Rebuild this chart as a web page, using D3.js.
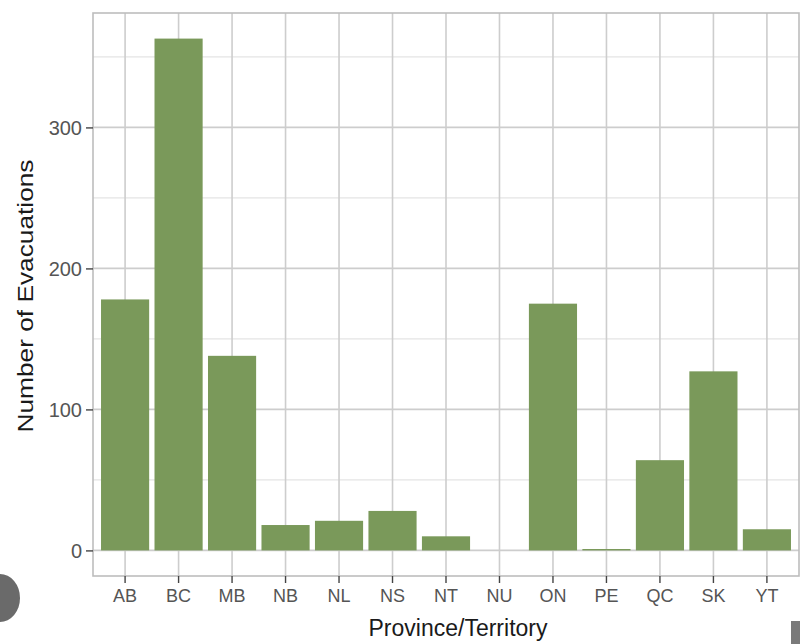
<!DOCTYPE html>
<html>
<head>
<meta charset="utf-8">
<script src="https://cdn.jsdelivr.net/npm/d3@7"></script>
<style>
  body { margin: 0; background: #fff; }
  svg { display: block; font-family: "Liberation Sans", Arial, sans-serif; }
</style>
</head>
<body>
<svg id="canvas" width="800" height="644"></svg>
<script>
const provinces = ["AB", "BC", "MB", "NB", "NL", "NS", "NT", "NU", "ON", "PE", "QC", "SK", "YT"]
const evacuations = [178, 363, 138, 18, 21, 28, 10, 0, 175, 1, 64, 127, 15]
const yTicks = [0, 100, 200, 300]
const yMinor = [50, 150, 250, 350]

const canvas = d3.select("#canvas")

const panel = {left: 93, right: 799, top: 13, bottom: 576}

// ggplot style 5% expansion on the continuous axis
const maxVal = d3.max(evacuations)
const yScale = d3.scaleLinear()
    .domain([-maxVal * 0.05, maxVal * 1.05])
    .range([panel.bottom, panel.top])

const xScale = d3.scaleBand()
    .domain(provinces)
    .range([panel.left, panel.right])
    .paddingInner(0.1)
    .paddingOuter(0.15)

// gridlines
canvas.selectAll(".minor")
      .data(yMinor)
      .enter()
      .append("line")
      .attr("x1", panel.left).attr("x2", panel.right)
      .attr("y1", d => yScale(d)).attr("y2", d => yScale(d))
      .attr("stroke", "#e4e4e4")
      .attr("stroke-width", 1.2)

canvas.selectAll(".major")
      .data(yTicks)
      .enter()
      .append("line")
      .attr("x1", panel.left).attr("x2", panel.right)
      .attr("y1", d => yScale(d)).attr("y2", d => yScale(d))
      .attr("stroke", "#cdcdcd")
      .attr("stroke-width", 1.6)

canvas.selectAll(".vgrid")
      .data(provinces)
      .enter()
      .append("line")
      .attr("x1", d => xScale(d) + xScale.bandwidth() / 2)
      .attr("x2", d => xScale(d) + xScale.bandwidth() / 2)
      .attr("y1", panel.top).attr("y2", panel.bottom)
      .attr("stroke", "#cdcdcd")
      .attr("stroke-width", 1.6)

// bars
canvas.selectAll(".bar")
      .data(provinces)
      .enter()
      .append("rect")
      .attr("class", "bar")
      .attr("x", d => xScale(d))
      .attr("width", xScale.bandwidth())
      .attr("y", (d, i) => yScale(evacuations[i]))
      .attr("height", (d, i) => yScale(0) - yScale(evacuations[i]))
      .attr("fill", "#7a995a")

// panel border
canvas.append("rect")
      .attr("x", panel.left).attr("y", panel.top)
      .attr("width", panel.right - panel.left)
      .attr("height", panel.bottom - panel.top)
      .attr("fill", "none")
      .attr("stroke", "#bdbdbd")
      .attr("stroke-width", 1.6)

// axes
const yAxis = d3.axisLeft(yScale).tickValues(yTicks).tickSize(7).tickPadding(4)
const xAxis = d3.axisBottom(xScale).tickSize(7).tickPadding(6)

const gy = canvas.append("g")
      .attr("transform", "translate(" + panel.left + ",0)")
      .call(yAxis)
gy.select(".domain").remove()
gy.selectAll(".tick line").attr("stroke", "#444").attr("stroke-width", 1.4)
gy.selectAll(".tick text")
  .attr("fill", "#555")
  .style("font-size", "20px")
  .attr("dy", "0.36em")

const gx = canvas.append("g")
      .attr("transform", "translate(0," + panel.bottom + ")")
      .call(xAxis)
gx.select(".domain").remove()
gx.selectAll(".tick line").attr("stroke", "#444").attr("stroke-width", 1.4)
gx.selectAll(".tick text")
  .attr("fill", "#555")
  .style("font-size", "18px")

// axis titles
canvas.append("text")
      .attr("x", 458)
      .attr("y", 636)
      .attr("text-anchor", "middle")
      .attr("fill", "#1a1a1a")
      .style("font-size", "23px")
      .text("Province/Territory")

canvas.append("text")
      .attr("transform", "translate(33,296) rotate(-90)")
      .attr("text-anchor", "middle")
      .attr("fill", "#1a1a1a")
      .attr("textLength", 273)
      .attr("lengthAdjust", "spacingAndGlyphs")
      .style("font-size", "22px")
      .text("Number of Evacuations")

// screenshot leftovers at the edges
canvas.append("ellipse")
      .attr("cx", 0).attr("cy", 598)
      .attr("rx", 20).attr("ry", 24)
      .attr("fill", "#6a6a6a")
canvas.append("rect")
      .attr("x", 791).attr("y", 621)
      .attr("width", 9).attr("height", 23)
      .attr("fill", "#7a7a7a")
</script>
</body>
</html>
